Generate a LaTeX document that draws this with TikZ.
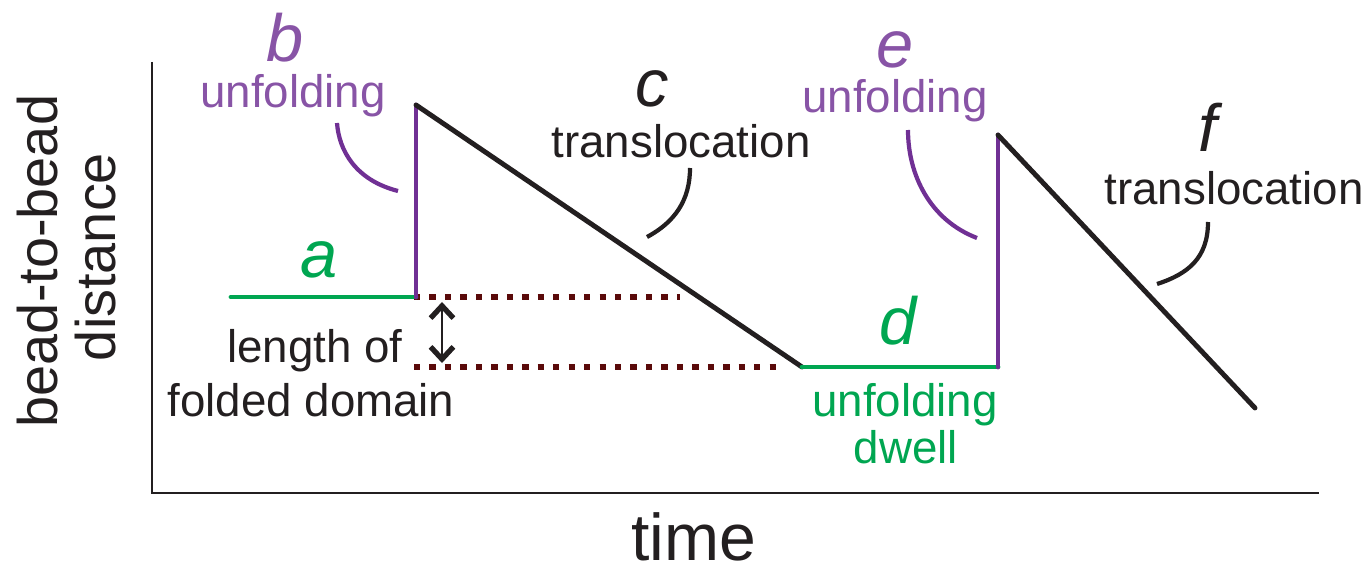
\documentclass[tikz,border=0pt]{standalone}
\usepackage{fontspec}
\setmainfont{Liberation Sans}
\usetikzlibrary{arrows.meta}
\definecolor{pline}{RGB}{112,48,148}
\definecolor{ptext}{RGB}{136,84,166}
\definecolor{gline}{RGB}{0,166,81}
\definecolor{dred}{RGB}{90,10,10}
\definecolor{ink}{RGB}{35,31,32}
\begin{document}
\begin{tikzpicture}[x=0.02cm,y=-0.02cm,
  lbl/.style={anchor=base,inner sep=0pt,font=\fontsize{26}{31}\selectfont},
  ltr/.style={anchor=base,inner sep=0pt,font=\fontsize{38}{44}\selectfont\itshape},
  seg/.style={line width=2.8pt,line cap=round},
  lead/.style={line width=2.4pt},
  dashln/.style={dred,line width=3.1pt,dash pattern=on 3.6pt off 5.2pt},
  axis/.style={ink,line width=1.2pt},
  dblarrow/.style={ink,line width=1.2pt,{Straight Barb[length=7pt,width=13pt,line width=3pt]}-{Straight Barb[length=7pt,width=13pt,line width=3pt]}}
]
\useasboundingbox (0,0) rectangle (1372,567);

% axes
\coordinate (O) at (152,493);
\coordinate (Ytop) at (152,62);
\coordinate (Xend) at (1319,493);
\draw[axis] (Ytop) -- (O) -- (Xend);

% trace points
\coordinate (a0) at (231,297);
\coordinate (a1) at (416,297);
\coordinate (b1) at (416,105);
\coordinate (c1) at (802,367);
\coordinate (d1) at (998,367);
\coordinate (e1) at (998,135);
\coordinate (f1) at (1255,408);

% dashed reference lines
\coordinate (dt0) at (414,297);
\coordinate (dt1) at (680,297);
\coordinate (db0) at (414,367);
\coordinate (db1) at (784,367);
\draw[dashln] (dt0) -- (dt1);
\draw[dashln] (db0) -- (db1);

% trace
\draw[seg,gline] (a0) -- (a1);
\draw[seg,pline] (a1) -- (b1);
\draw[seg,ink] (b1) -- (c1);
\draw[seg,gline] (c1) -- (d1);
\draw[seg,pline] (d1) -- (e1);
\draw[seg,ink] (e1) -- (f1);

% double arrow
\coordinate (arT) at (442,302);
\coordinate (arB) at (442,363);
\draw[dblarrow] (arT) -- (arB);

% leader curves
\coordinate (lb0) at (337,123); \coordinate (lb1) at (398,191);
\draw[lead,pline] (lb0) .. controls (339,150) and (355,180) .. (lb1);
\coordinate (le0) at (908,130); \coordinate (le1) at (977,238);
\draw[lead,pline] (le0) .. controls (908,175) and (930,220) .. (le1);
\coordinate (lc0) at (690,168); \coordinate (lc1) at (647,237);
\draw[lead,ink] (lc0) .. controls (690,200) and (675,222) .. (lc1);
\coordinate (lf0) at (1208,222); \coordinate (lf1) at (1157,284);
\draw[lead,ink] (lf0) .. controls (1208,258) and (1188,274) .. (lf1);

% labels
\node[ltr,ptext] (lb) at (285,62) {b};
\node[lbl,ptext] (ub) at (293,108) {unfolding};
\node[ltr,gline] (la) at (319,278) {a};
\node[lbl,ink] (len1) at (315,362) {length of};
\node[lbl,ink] (len2) at (311,417) {folded domain};
\node[ltr,ink] (lc) at (652,107) {c};
\node[lbl,ink] (tc) at (681,158) {translocation};
\node[ltr,ptext] (le) at (895,68) {e};
\node[lbl,ptext] (ue) at (895,113) {unfolding};
\node[ltr,gline] (ld) at (898,345) {d};
\node[lbl,gline] (ud1) at (905,417) {unfolding};
\node[lbl,gline] (ud2) at (906,463) {dwell};
\node[ltr,ink] (lf) at (1208,152) {f};
\node[lbl,ink] (tf) at (1234,205) {translocation};

% axis labels
\node[anchor=base,inner sep=0pt,text depth=0pt,font=\fontsize{37.6}{44}\selectfont,ink] (xl) at (694,560) {time};
\node[anchor=base,inner sep=0pt,font=\fontsize{31.8}{38}\selectfont,ink,rotate=90] (yl1) at (57,261) {bead-to-bead};
\node[anchor=base,inner sep=0pt,font=\fontsize{31.8}{38}\selectfont,ink,rotate=90] (yl2) at (115,257) {distance};
\end{tikzpicture}
\end{document}
